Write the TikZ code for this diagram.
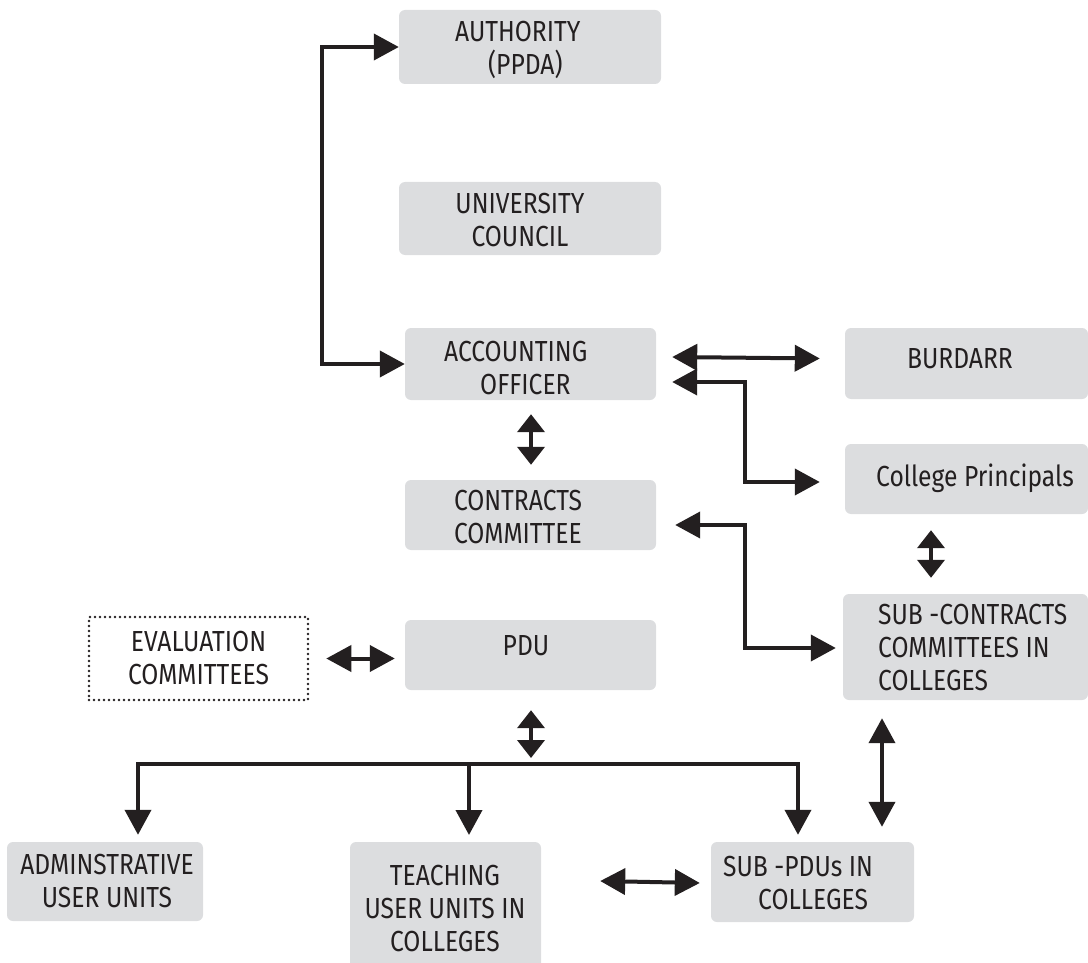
\documentclass[tikz,border=0pt]{standalone}
\usepackage{fontspec}
\setmainfont{Fira Sans}[FakeStretch=0.85]
\usetikzlibrary{arrows.meta,calc}
\definecolor{boxgray}{HTML}{DCDDDF}
\definecolor{ink}{HTML}{231F20}
\begin{document}
\begin{tikzpicture}[x=1pt,y=-1pt,
  box/.style={fill=boxgray,rounded corners=6pt,inner sep=0pt},
  txt/.style={inner sep=0pt,text=ink,font=\fontsize{29}{33}\selectfont},
  conn/.style={draw=ink,line width=4pt,{Triangle[length=25pt,width=26pt]}-{Triangle[length=25pt,width=26pt]}},
  short/.style={draw=ink,line width=4pt,{Triangle[length=18pt,width=27pt]}-{Triangle[length=18pt,width=27pt]}},
  oneway/.style={draw=ink,line width=4pt,-{Triangle[length=25pt,width=26pt]}},
  dotbox/.style={draw=ink,line width=2.6pt,dash pattern=on 0pt off 5pt,line cap=round,
    inner sep=0pt,align=center,text=ink,font=\fontsize{29}{33}\selectfont}]
\useasboundingbox (0,0) rectangle (1088,963);

% boxes
\node[box,minimum width=262pt,minimum height=74pt] (auth) at (530,47) {};
\node[box,minimum width=262pt,minimum height=73pt] (council) at (530,218.5) {};
\node[box,minimum width=251pt,minimum height=72pt] (acc) at (530.5,364) {};
\node[box,minimum width=251pt,minimum height=70pt] (contr) at (530.5,515) {};
\node[box,minimum width=251pt,minimum height=70pt] (pdu) at (530.5,655) {};
\node[dotbox,minimum width=219pt,minimum height=83pt] (eval) at (198.5,658.5) {EVALUATION\\COMMITTEES};
\node[box,minimum width=243pt,minimum height=71pt] (burd) at (966.5,363.5) {};
\node[box,minimum width=243pt,minimum height=70pt] (coll) at (966.5,479) {};
\node[box,minimum width=245pt,minimum height=106pt] (subcc) at (965.5,647) {};
\node[box,minimum width=196pt,minimum height=79pt] (admin) at (105,881.5) {};
\node[box,minimum width=191pt,minimum height=132pt] (teach) at (445.5,908) {};
\node[box,minimum width=203pt,minimum height=80pt] (subpdu) at (812.5,882) {};

% texts
\node[txt,anchor=west,align=left] (authT) at (455,50) {AUTHORITY\\\hspace*{33pt}(PPDA)};
\node[txt,align=center] (councilT) at (520,220) {UNIVERSITY\\COUNCIL};
\node[txt,anchor=west,align=left] (accT) at (444,368) {ACCOUNTING\\\hspace*{36pt}OFFICER};
\node[txt,align=center] (contrT) at (518,517) {CONTRACTS\\COMMITTEE};
\node[txt] (pduT) at (526,646) {PDU};
\node[txt] (burdT) at (960,359) {BURDARR};
\node[txt] (collT) at (975,478) {College Principals};
\node[txt,anchor=west,align=left] (subccT) at (878,648) {SUB -CONTRACTS\\COMMITTEES IN\\COLLEGES};
\node[txt,align=center] (adminT) at (107,881) {ADMINSTRATIVE\\USER UNITS};
\node[txt,align=center] (teachT) at (445,909) {TEACHING\\USER UNITS IN\\COLLEGES};
\node[txt,anchor=west,align=left] (subpduT) at (723,883) {SUB -PDUs IN\\\hspace*{35pt}COLLEGES};

\coordinate (busy) at (531,764);

% connectors
\draw[conn] (acc.west) -- ++(-83,0) |- (auth.west);
\draw[conn] ($(acc.east)+(16,-7)$) -- ($(burd.west)+(-25,-5)$);
\draw[conn] ($(acc.east)+(16,18)$) -- ++(73,0) |- ($(coll.west)+(-25,3)$);
\draw[short] ($(acc.south)+(0.5,14)$) -- ($(contr.north)+(0.5,-15)$);
\draw[conn] ($(contr.east)+(19,10)$) -- ++(70,0) |- ($(subcc.west)+(-7,1)$);
\draw[short] ($(coll.south)+(-35.5,16)$) -- ($(subcc.north)+(-34.5,-16)$);
\draw[conn] ($(eval.east)+(17,0)$) -- ($(pdu.west)+(-10,3.5)$);
\draw[short] ($(pdu.south)+(0.5,20)$) -- ($(busy)+(0,-6)$);
\draw[conn] ($(admin.north)+(33,-7)$) |- (busy) -| ($(subpdu.north)+(-14.5,-7)$);
\draw[oneway] (busy -| 469,0) -- (469,835);
\draw[conn] ($(teach.east)+(59,-27)$) -- ($(subpdu.west)+(-11,1)$);
\draw[conn] ($(subpdu.north)+(69.5,-15)$) -- ($(subcc.south)+(-83.5,18)$);
\end{tikzpicture}
\end{document}
